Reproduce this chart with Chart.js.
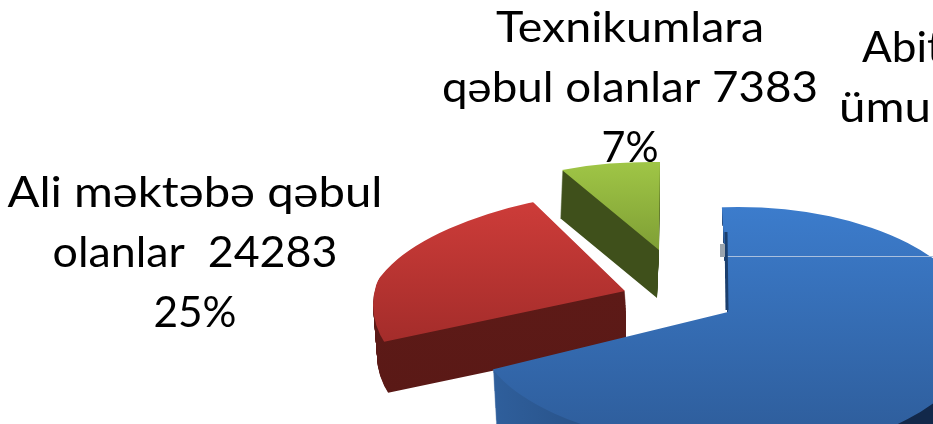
<!DOCTYPE html>
<html><head><meta charset="utf-8">
<style>html,body{margin:0;padding:0;background:#fff;overflow:hidden}canvas{display:block;filter:blur(.5px)}</style>
<script src="https://cdn.jsdelivr.net/npm/chart.js@4"></script>
</head><body><canvas id="c" width="933" height="424"></canvas>
<script>
const categories = ["Abituriyentlərin ümumi sayı", "Ali məktəbə qəbul olanlar", "Texnikumlara qəbul olanlar"];
const values = [67000, 24283, 7383];
const percents = ["68%", "25%", "7%"];

const aliLines = ["Ali məktəbə qəbul", "olanlar  24283", "25%"];
const texLines = ["Texnikumlara", "qəbul olanlar 7383", "7%"];
const abiLines = ["Abituriyentlərin", "ümumi sayı"];

// how each pie slice is projected on the page (tilted, exploded 3D look)
const views = [
  {apex:[728,312], v0:[-8,-137], v1:[-307,75], clip:[738,330,260,240,123,118,126], depth:[4,70],
   top:[207,"#3c7ccc",424,"#2f5f9e"], side:{axis:"x",from:[492,"#2f5f9c"],to:[900,"#12284a"]}},
  {apex:[625,291], v0:[-242,51], v1:[-92,-89], clip:[540,305,167,167,103,103,103], depth:[4,51], maxX:626,
   top:[202,"#cd3c39",345,"#a32c2a"], side:{axis:"y",from:[290,"#5d1a17"],to:[395,"#5a1916"]}},
  {apex:[659,250], v0:[-97,-80], v1:[1,-88], depth:[-2,48],
   top:[161,"#a0c646",250,"#7f9f35"], side:{axis:"y",from:[170,"#3f501b"],to:[300,"#3f501b"]}}
];
const textLayout = {
  tex:{x:630,y:42,widths:[268,376,57]},
  ali:{x:195,y:207,widths:[375,285,83]},
  abi:{xs:[862,839],ys:[62,122],stretch:[1.05,1.13]},
  lineGap:60
};

function matrix(arc, v){
  const R = arc.outerRadius;
  const a0 = arc.startAngle, a1 = arc.endAngle;
  const p = [Math.cos(a0),Math.sin(a0),Math.cos(a1),Math.sin(a1)];
  const det = p[0]*p[3]-p[2]*p[1];
  const inv = [p[3]/det,-p[1]/det,-p[2]/det,p[0]/det];
  const ma = (v.v0[0]*inv[0]+v.v1[0]*inv[1])/R;
  const mc = (v.v0[0]*inv[2]+v.v1[0]*inv[3])/R;
  const mb = (v.v0[1]*inv[0]+v.v1[1]*inv[1])/R;
  const md = (v.v0[1]*inv[2]+v.v1[1]*inv[3])/R;
  return {ma,mb,mc,md,cx:arc.x,cy:arc.y};
}
function apply(ctx,m,ax,ay){
  ctx.setTransform(m.ma,m.mb,m.mc,m.md,ax-(m.ma*m.cx+m.mc*m.cy),ay-(m.mb*m.cx+m.md*m.cy));
}
function pageGradient(ctx,m,ax,ay,axis,s0,c0,s1,c1){
  const g = axis==="y" ? [m.mb,m.md,ay] : [m.ma,m.mc,ax];
  const n = g[0]*g[0]+g[1]*g[1];
  const pt = s => [m.cx+(s-g[2])*g[0]/n, m.cy+(s-g[2])*g[1]/n];
  const A=pt(s0),B=pt(s1);
  const gr = ctx.createLinearGradient(A[0],A[1],B[0],B[1]);
  gr.addColorStop(0,c0);gr.addColorStop(1,c1);
  return gr;
}
function fitted(ctx,t,cx,y,w){
  const sx = w/ctx.measureText(t).width;
  ctx.save();ctx.translate(cx,y);ctx.scale(sx,1);ctx.textAlign="center";ctx.fillText(t,0,0);ctx.restore();
}
function drawText(ctx){
  ctx.save();
  ctx.fillStyle="#000";
  ctx.font="42px Lato, 'Open Sans', sans-serif";
  ctx.textBaseline="alphabetic";
  texLines.forEach((t,i)=>fitted(ctx,t,textLayout.tex.x,textLayout.tex.y+i*textLayout.lineGap,textLayout.tex.widths[i]));
  aliLines.forEach((t,i)=>fitted(ctx,t,textLayout.ali.x,textLayout.ali.y+i*textLayout.lineGap,textLayout.ali.widths[i]));
  abiLines.forEach((t,i)=>{
    ctx.save();ctx.translate(textLayout.abi.xs[i],textLayout.abi.ys[i]);ctx.scale(textLayout.abi.stretch[i],1);
    ctx.textAlign="left";ctx.fillText(t,0,0);ctx.restore();
  });
  ctx.restore();
}
function clipPath(ctx,c,ox,oy){
  const [x,y,rl,rr,rt,rbl,rbr]=[c[0]+ox,c[1]+oy,c[2],c[3],c[4],c[5],c[6]];
  const P=Math.PI;
  ctx.beginPath();
  ctx.ellipse(x,y,rl,rt,0,P,1.5*P);
  ctx.ellipse(x,y,rr,rt,0,1.5*P,2*P);
  ctx.ellipse(x,y,rr,rbr,0,0,.5*P);
  ctx.ellipse(x,y,rl,rbl,0,.5*P,P);
  ctx.closePath();
  ctx.clip();
}
function drawSlice(ctx,arc,v){
  const m = matrix(arc,v);
  const base = arc.options;
  const [ax,ay]=v.apex;
  const N = Math.ceil(Math.abs(v.depth[1]));
  for(let i=N;i>=0;i--){
    const sx=ax+v.depth[0]*i/N, sy=ay+v.depth[1]*i/N;
    ctx.save();
    if(v.maxX){ctx.beginPath();ctx.rect(0,0,v.maxX,424);ctx.clip();}
    if(v.clip) clipPath(ctx,v.clip,sx-ax,sy-ay);
    apply(ctx,m,sx,sy);
    const fill = i>0
      ? pageGradient(ctx,m,sx,sy,v.side.axis,v.side.from[0],v.side.from[1],v.side.to[0],v.side.to[1])
      : pageGradient(ctx,m,sx,sy,"y",v.top[0],v.top[1],v.top[2],v.top[3]);
    const opt = Object.create(base);
    opt.backgroundColor = fill;
    arc.options = opt;
    arc.draw(ctx);
    arc.options = base;
    ctx.restore();
  }
}
const pie3d = {
  id:"pie3d",
  beforeDatasetsDraw(chart){
    const ctx = chart.ctx;
    const arcs = chart.getDatasetMeta(0).data;
    drawText(ctx);
    [2,1,0].forEach(i=>drawSlice(ctx,arcs[i],views[i]));
    ctx.save();
    ctx.strokeStyle="#a9c0de";ctx.lineWidth=1;
    ctx.beginPath();ctx.moveTo(722,256.5);ctx.lineTo(933,256.5);ctx.stroke();
    ctx.strokeStyle="#1b3f6e";ctx.lineWidth=3;
    ctx.beginPath();ctx.moveTo(726,232);ctx.lineTo(727,310);ctx.stroke();
    ctx.fillStyle="#9aa4ae";ctx.fillRect(720,244,5,13);
    ctx.restore();
    return false;
  }
};
new Chart(document.getElementById("c"),{
  type:"pie",
  data:{labels:categories,datasets:[{data:values,backgroundColor:["#3c7ccc","#cd3c39","#a0c646"],borderWidth:0}]},
  options:{responsive:false,animation:false,plugins:{legend:{display:false},tooltip:{enabled:false}}},
  plugins:[pie3d]
});
</script></body></html>
